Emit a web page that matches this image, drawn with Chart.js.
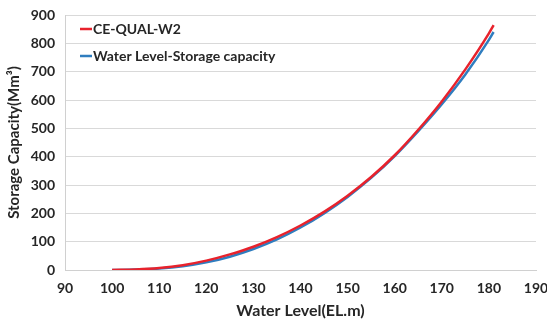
<!DOCTYPE html>
<html><head><meta charset="utf-8">
<script src="https://cdn.jsdelivr.net/npm/chart.js@4/dist/chart.umd.min.js"></script>
<style>html,body{margin:0;padding:0;background:#fff}#wrap{width:547px;height:324px}</style>
</head><body><div id="wrap"><canvas id="c" width="547" height="324"></canvas></div>
<script>
const waterLevel = [100,105,110,115,120,125,130,135,140,145,150,155,160,165,170,175,180,181];
const ceQualW2   = [0,2,7,17,33,55,82,116,157,205,262,328,405,495,595,708,835,864];
const levelStorage = [0,1.5,5,13,27,47,74,108,150,200,258,325,402,490,585,690,812,840];
const seriesNames = ['CE-QUAL-W2','Water Level-Storage capacity'];
const seriesColors = ['#e8222c','#2f7dbf'];
const xTicks = [90,100,110,120,130,140,150,160,170,180,190];
const yTicks = [0,100,200,300,400,500,600,700,800,900];

const toXY = (xs, ys) => xs.map((x,i)=>({x:x,y:ys[i]}));
const FONT = 'Lato, "Open Sans", sans-serif';

const legendPlugin = {
  id:'insideLegend',
  afterDraw(chart){
    const ctx = chart.ctx;
    const a = chart.chartArea;
    ctx.save();
    ctx.font = 'bold 14px ' + FONT;
    ctx.textBaseline = 'middle';
    chart.data.datasets.forEach((ds,i)=>{
      const y = a.top + 14 + i*27;
      const x = a.left + 15;
      ctx.strokeStyle = ds.borderColor;
      ctx.lineWidth = 2.5;
      ctx.beginPath(); ctx.moveTo(x,y); ctx.lineTo(x+12,y); ctx.stroke();
      ctx.fillStyle = '#262626';
      ctx.fillText(ds.label, x+13, y);
    });
    ctx.restore();
  }
};

new Chart(document.getElementById('c'), {
  type:'line',
  data:{datasets:[
    {label:seriesNames[0], data:toXY(waterLevel, ceQualW2), borderColor:seriesColors[0], backgroundColor:seriesColors[0], borderWidth:2.5, pointRadius:0, tension:0.4, cubicInterpolationMode:'monotone', fill:false},
    {label:seriesNames[1], data:toXY(waterLevel, levelStorage), borderColor:seriesColors[1], backgroundColor:seriesColors[1], borderWidth:2.5, pointRadius:0, tension:0.4, cubicInterpolationMode:'monotone', fill:false}
  ]},
  options:{
    responsive:false, animation:false,
    layout:{padding:{top:15,right:11,left:0,bottom:0}},
    plugins:{legend:{display:false}, tooltip:{enabled:false}},
    scales:{
      x:{type:'linear', min:90, max:190,
        afterBuildTicks: s => { s.ticks = xTicks.map(v=>({value:v})); },
        afterFit: s => { s.height = 54; s.paddingRight = 0; s.paddingLeft = 0; },
        grid:{display:false, drawTicks:true, tickLength:5, color:'#d0d0d0'},
        border:{display:true, color:'#d0d0d0'},
        ticks:{font:{family:FONT, size:14, weight:'bold'}, color:'#262626', maxRotation:0, padding:5},
        title:{display:true, text:'Water Level(EL.m)', font:{family:FONT, size:16, weight:'bold'}, color:'#262626', padding:{top:0,bottom:4}}
      },
      y:{min:0, max:900,
        afterBuildTicks: s => { s.ticks = yTicks.map(v=>({value:v})); },
        afterFit: s => { s.width = 65; s.paddingTop = 0; s.paddingBottom = 0; },
        grid:{color:'#d9d9d9', drawTicks:false, lineWidth:1},
        border:{display:true, color:'#d0d0d0'},
        ticks:{font:{family:FONT, size:14, weight:'bold'}, color:'#262626', padding:10},
        title:{display:true, text:'Storage Capacity(Mm³)', font:{family:FONT, size:15, weight:'bold'}, color:'#262626', padding:{top:5,bottom:0}}
      }
    }
  },
  plugins:[legendPlugin]
});
</script></body></html>
